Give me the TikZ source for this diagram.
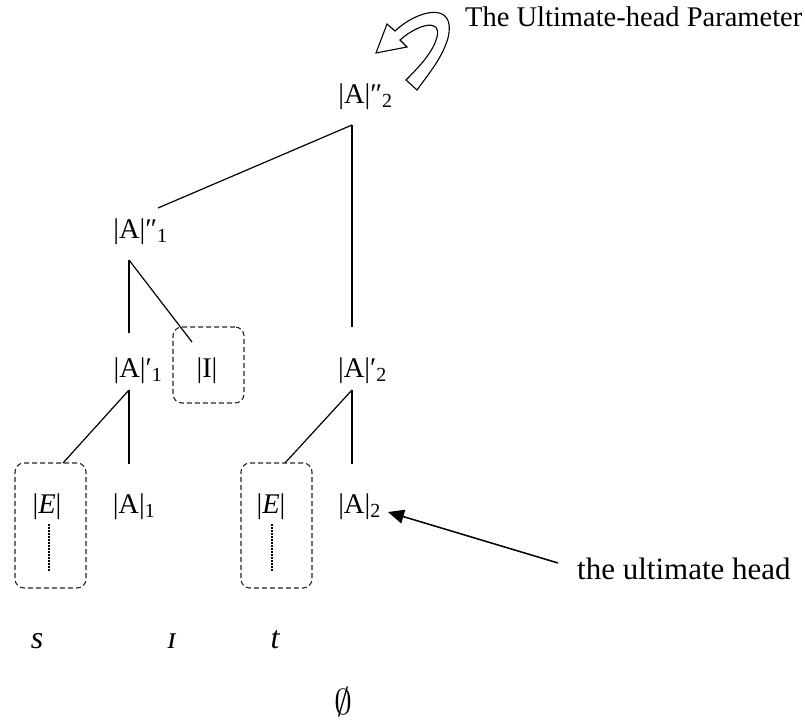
\RequirePackage{fix-cm}
\documentclass[tikz,border=0pt]{standalone}
\usepackage{fontspec}
\setmainfont{Liberation Serif}
\usetikzlibrary{arrows.meta}

\begin{document}
\begin{tikzpicture}[x=1pt, y=-1pt,
  lab/.style={font=\fontsize{28.5}{32}\selectfont, inner sep=0pt, anchor=base},
  leaf/.style={font=\fontsize{32}{36}\selectfont\itshape, inner sep=0pt, anchor=base},
  br/.style={line width=1.2pt},
  box/.style={draw=black!85, dash pattern=on 5pt off 3pt, line width=1.1pt, rounded corners=9pt, inner sep=0pt},
  dots/.style={line width=2pt, dash pattern=on 1.5pt off 1.5pt},
  arr/.style={-{Triangle[length=16pt,width=14pt]}, line width=1.5pt}
]
\useasboundingbox (0,0) rectangle (805,720);

% labels of the tree
\node[lab] (A2pp) at (365.5,103) {|A|″\textsubscript{2}};
\node[lab] (A1pp) at (140.5,238) {|A|″\textsubscript{1}};
\node[lab] (A1p)  at (138,377)   {|A|′\textsubscript{1}};
\node[lab] (I)    at (207,377)   {|I|};
\node[lab] (A2p)  at (362.5,377) {|A|′\textsubscript{2}};
\node[lab] (E1)   at (47,513)    {|\textit{E}|};
\node[lab] (A1)   at (134,513)   {|A|\textsubscript{1}};
\node[lab] (E2)   at (271,513)   {|\textit{E}|};
\node[lab] (A2)   at (359.5,513) {|A|\textsubscript{2}};

% dashed boxes
\node[box, minimum width=71pt, minimum height=76pt]  (Ibox)  at (208.5,365)   {};
\node[box, minimum width=71pt, minimum height=125pt] (Ebox1) at (50.5,525.5)  {};
\node[box, minimum width=71pt, minimum height=125pt] (Ebox2) at (276.5,525.5) {};

% branch points
\coordinate (A2pp-s) at (352,125);
\coordinate (A1pp-n) at (158,208);
\coordinate (A2p-n)  at (352,327);
\coordinate (A1pp-s) at (129,260);
\coordinate (A1p-n)  at (129,333);
\coordinate (I-n)    at (192,342);
\coordinate (A1p-s)  at (129,390);
\coordinate (E1-n)   at (63,463);
\coordinate (A1-n)   at (129,464);
\coordinate (A2p-s)  at (352,390);
\coordinate (E2-n)   at (285,463);
\coordinate (A2-n)   at (352,464);

\draw[br] (A2pp-s) -- (A1pp-n);
\draw[br] (A2pp-s) -- (A2p-n);
\draw[br] (A1pp-s) -- (A1p-n);
\draw[br] (A1pp-s) -- (I-n);
\draw[br] (A1p-s) -- (E1-n);
\draw[br] (A1p-s) -- (A1-n);
\draw[br] (A2p-s) -- (E2-n);
\draw[br] (A2p-s) -- (A2-n);

% dotted lines under E
\coordinate (E1-a) at (49,524);
\coordinate (E1-b) at (49,572);
\coordinate (E2-a) at (272,524);
\coordinate (E2-b) at (272,572);
\draw[dots] (E1-a) -- (E1-b);
\draw[dots] (E2-a) -- (E2-b);

% leaves
\node[leaf] (s)   at (37,648)  {s};
\node[leaf] (iota) at (172,648) {ɪ};
\node[leaf] (t)   at (275,648) {t};
\node[inner sep=0pt, anchor=base, font=\fontsize{36}{40}\selectfont] (empty) at (343,714) {$\emptyset$};

% ultimate head
\node[font=\fontsize{31}{35}\selectfont, inner sep=0pt, anchor=base west] (uh) at (577,579) {the ultimate head};
\coordinate (uh-w) at (558,563);
\coordinate (A2-e) at (388,512);
\draw[arr] (uh-w) -- (A2-e);

% parameter with curved block arrow
\node[font=\fontsize{28.5}{32}\selectfont, inner sep=0pt, anchor=base west] (param) at (465,27) {The Ultimate-head Parameter};
\draw[line width=1.1pt, fill=white, line join=miter]
  (406,80) -- (417,90)
  .. controls (430,72) and (442,58) .. (448,38)
  .. controls (457,0) and (417,10) .. (395,31)
  -- (387,24) -- (376,53) -- (407,47) -- (400,40)
  .. controls (418,24) and (442,18) .. (437,37)
  .. controls (433,52) and (420,66) .. (406,80) -- cycle;
\end{tikzpicture}
\end{document}
